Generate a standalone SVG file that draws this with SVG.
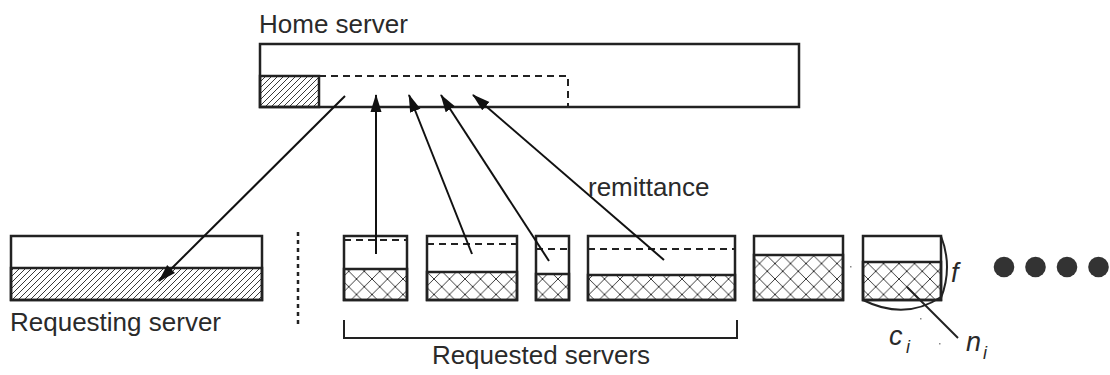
<svg xmlns="http://www.w3.org/2000/svg" width="1110" height="375" viewBox="0 0 1110 375">
<defs>
<pattern id="hatch" width="6" height="6" patternUnits="userSpaceOnUse">
<path d="M-1,7 L7,-1 M-1,1 L1,-1 M5,7 L7,5" stroke="#222" stroke-width="0.9"/>
</pattern>
<pattern id="cross" x="0" y="0" width="15.5" height="15.5" patternUnits="userSpaceOnUse">
<path d="M0,0 L15.5,15.5 M15.5,0 L0,15.5" stroke="#222" stroke-width="0.9"/>
</pattern>
<marker id="ah" markerWidth="18" markerHeight="12" refX="17" refY="6" orient="auto" markerUnits="userSpaceOnUse">
<path d="M0,0.5 L18,6 L0,11.5 Z" fill="#111"/>
</marker>
</defs>
<style>
.box{fill:#fff;stroke:#222;stroke-width:2.5}
.hf{fill:url(#hatch);stroke:#222;stroke-width:2.5}
.cf{fill:url(#cross);stroke:#222;stroke-width:2.5}
.dash{fill:none;stroke:#222;stroke-width:2;stroke-dasharray:7 5}
.lbl{font-family:"Liberation Sans",Arial,sans-serif;font-size:26px;fill:#2a2a2a}
.math{font-family:"Liberation Sans",Arial,sans-serif;font-style:italic;font-size:27px;fill:#2a2a2a}
.sub{font-family:"Liberation Sans",Arial,sans-serif;font-style:italic;font-size:18px;fill:#2a2a2a}
.arr{stroke:#111;stroke-width:2;fill:none;marker-end:url(#ah)}
.ln{stroke:#222;stroke-width:2;fill:none}
</style>
<rect width="1110" height="375" fill="#fff"/>

<g id="home-server">
<text class="lbl" x="259" y="33">Home server</text>
<rect class="box" x="260" y="44" width="539" height="63"/>
<rect class="hf" x="260" y="76" width="59" height="31"/>
<path class="dash" d="M319,76 H568 V107"/>
</g>

<g id="requesting-server">
<rect class="box" x="11" y="236" width="251" height="64"/>
<rect class="hf" x="11" y="268" width="251" height="32"/>
<text class="lbl" x="10" y="331">Requesting server</text>
</g>

<g id="separator">
<line x1="298" y1="232" x2="298" y2="326" stroke="#222" stroke-width="2.5" stroke-dasharray="4 4"/>
</g>

<g id="requested-1">
<rect class="box" x="344" y="236" width="63" height="64"/>
<rect class="cf" x="344" y="269" width="63" height="31"/>
<line class="dash" x1="344" y1="240" x2="407" y2="240"/>
</g>
<g id="requested-2">
<rect class="box" x="427" y="236" width="90" height="64"/>
<rect class="cf" x="427" y="272" width="90" height="28"/>
<line class="dash" x1="427" y1="244" x2="517" y2="244"/>
</g>
<g id="requested-3">
<rect class="box" x="536" y="236" width="33" height="64"/>
<rect class="cf" x="536" y="274" width="33" height="26"/>
<line class="dash" x1="536" y1="249" x2="569" y2="249"/>
</g>
<g id="requested-4">
<rect class="box" x="588" y="236" width="147" height="64"/>
<rect class="cf" x="588" y="275" width="147" height="25"/>
<line class="dash" x1="588" y1="249" x2="735" y2="249"/>
</g>
<g id="server-5">
<rect class="box" x="754" y="236" width="89" height="64"/>
<rect class="cf" x="754" y="255" width="89" height="45"/>
</g>
<g id="server-6">
<rect class="box" x="863" y="236" width="78" height="64"/>
<rect class="cf" x="863" y="262" width="78" height="38"/>
<path class="ln" d="M863,300 Q905,321 941,297"/>
<path class="ln" d="M941,236 Q953,267 941,298"/>
<line class="ln" x1="907" y1="287" x2="958" y2="338"/>
<text class="math" x="951" y="282">f</text>
<text class="math" x="889" y="345">c</text>
<text class="sub" x="906" y="353">i</text>
<text class="math" x="966" y="351">n</text>
<text class="sub" x="983" y="359">i</text>
<rect x="850" y="266" width="1.5" height="1.5" fill="#888"/>
<rect x="920" y="318" width="1.5" height="1.5" fill="#888"/>
<rect x="939" y="343" width="1.5" height="1.5" fill="#888"/>
</g>

<g id="more-servers" fill="#333">
<circle cx="1004" cy="267" r="10.3"/>
<circle cx="1035.5" cy="267" r="10.3"/>
<circle cx="1067" cy="267" r="10.3"/>
<circle cx="1098.5" cy="267" r="10.3"/>
</g>

<g id="requested-servers-label">
<path class="ln" d="M344,320 V338 H737 V320"/>
<text class="lbl" x="541" y="364" text-anchor="middle">Requested servers</text>
</g>

<g id="connectors">
<line class="arr" x1="345" y1="96" x2="159" y2="281"/>
<line class="arr" x1="376" y1="254" x2="376" y2="95"/>
<line class="arr" x1="472" y1="254" x2="409" y2="95"/>
<line class="arr" x1="549" y1="261" x2="441" y2="95"/>
<line class="arr" x1="664" y1="260" x2="473" y2="95"/>
<text class="lbl" x="588" y="196">remittance</text>
</g>
</svg>
